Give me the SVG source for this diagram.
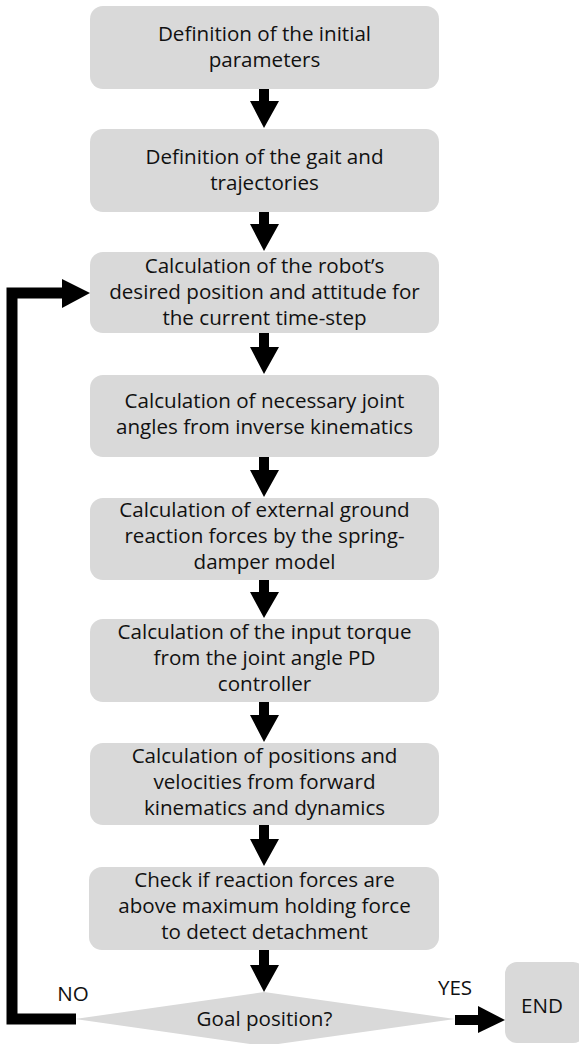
<svg xmlns="http://www.w3.org/2000/svg" width="579" height="1044" viewBox="0 0 579 1044">
<style>
.box{fill:#d9d9d9;}
.t{font-family:"Open Sans","Noto Sans",sans-serif;font-size:20.6px;fill:#111;text-anchor:middle;}
.lbl{font-family:"Open Sans","Noto Sans",sans-serif;font-size:20.6px;fill:#111;text-anchor:middle;}
.arr{fill:#000;}
</style>
<rect width="579" height="1044" fill="#fff"/>
<g id="n1"><rect class="box" x="90" y="6" width="349" height="83" rx="13"/>
<text class="t" x="264.5" y="41">Definition of the initial</text><text class="t" x="264.5" y="67">parameters</text></g>
<g id="n2"><rect class="box" x="90" y="129" width="349" height="83" rx="13"/>
<text class="t" x="264.5" y="164">Definition of the gait and</text><text class="t" x="264.5" y="190">trajectories</text></g>
<g id="n3"><rect class="box" x="90" y="252" width="349" height="81" rx="13"/>
<text class="t" x="264.5" y="273">Calculation of the robot’s</text><text class="t" x="264.5" y="299">desired position and attitude for</text><text class="t" x="264.5" y="325">the current time-step</text></g>
<g id="n4"><rect class="box" x="90" y="375" width="349" height="82" rx="13"/>
<text class="t" x="264.5" y="408">Calculation of necessary joint</text><text class="t" x="264.5" y="434">angles from inverse kinematics</text></g>
<g id="n5"><rect class="box" x="90" y="498" width="349" height="82" rx="13"/>
<text class="t" x="264.5" y="517">Calculation of external ground</text><text class="t" x="264.5" y="543">reaction forces by the spring-</text><text class="t" x="264.5" y="569">damper model</text></g>
<g id="n6"><rect class="box" x="90" y="619" width="349" height="83" rx="13"/>
<text class="t" x="264.5" y="639">Calculation of the input torque</text><text class="t" x="264.5" y="665">from the joint angle PD</text><text class="t" x="264.5" y="691">controller</text></g>
<g id="n7"><rect class="box" x="90" y="743" width="349" height="82" rx="13"/>
<text class="t" x="264.5" y="763">Calculation of positions and</text><text class="t" x="264.5" y="789">velocities from forward</text><text class="t" x="264.5" y="815">kinematics and dynamics</text></g>
<g id="n8"><rect class="box" x="89" y="867" width="350" height="83" rx="13"/>
<text class="t" x="264.5" y="887">Check if reaction forces are</text><text class="t" x="264.5" y="913">above maximum holding force</text><text class="t" x="264.5" y="939">to detect detachment</text></g>
<g id="decision"><polygon class="box" points="75,1019 264,992 455,1019 264,1046"/>
<text class="t" x="264.5" y="1026">Goal position?</text></g>
<g id="end"><rect class="box" x="505" y="962" width="80" height="81" rx="12"/>
<text class="t" x="542" y="1013">END</text></g>
<g id="connectors">
<polygon class="arr" points="259,89 269,89 269,101 279,101 264,128 250,101 259,101"/>
<polygon class="arr" points="259,212 269,212 269,224 279,224 264,251 250,224 259,224"/>
<polygon class="arr" points="259,333 269,333 269,347 279,347 264,374 250,347 259,347"/>
<polygon class="arr" points="259,457 269,457 269,470 279,470 264,497 250,470 259,470"/>
<polygon class="arr" points="259,580 269,580 269,592 279,592 264,618 250,592 259,592"/>
<polygon class="arr" points="259,702 269,702 269,715 279,715 264,742 250,715 259,715"/>
<polygon class="arr" points="259,825 269,825 269,839 279,839 264,866 250,839 259,839"/>
<polygon class="arr" points="259,950 269,950 269,965 279,965 264,992 250,965 259,965"/>
<polyline points="76,1019 12,1019 12,293 64,293" fill="none" stroke="#000" stroke-width="11"/>
<polygon class="arr" points="62,279 90,293 62,308"/>
<rect class="arr" x="455" y="1015" width="24" height="10"/>
<polygon class="arr" points="478,1006 505,1020 478,1033"/>
<text class="lbl" x="73" y="1001">NO</text>
<text class="lbl" x="455" y="995">YES</text>
</g>
</svg>
